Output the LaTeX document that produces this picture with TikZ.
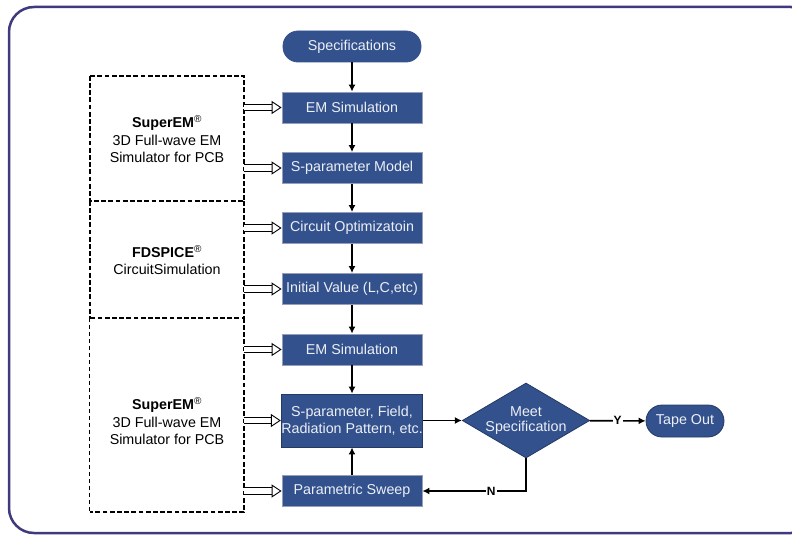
\documentclass[tikz,border=0pt]{standalone}
\usepackage{fontspec}
\setmainfont{Liberation Sans}
\usetikzlibrary{arrows.meta,shapes.geometric}
\definecolor{boxblue}{RGB}{51,82,141}
\definecolor{framecol}{RGB}{62,58,125}
\definecolor{boxedge}{RGB}{150,158,185}
\definecolor{txt}{RGB}{236,239,246}
\begin{document}
\begin{tikzpicture}[x=1pt,y=-1pt,
 proc/.style={draw=boxedge, line width=0.8pt, fill=boxblue, text=txt, minimum width=140pt, minimum height=31pt, inner sep=0pt, font=\fontsize{14.3}{16.7}\selectfont, align=center},
 pill/.style={proc, draw=boxblue, rounded corners=15pt},
 flow/.style={-{Latex[length=7pt,width=7pt]}, line width=1.6pt},
 hollow/.style={double, double distance=5.5pt, line width=0.9pt, -{Triangle[open,length=10pt,width=13pt]}},
 toolarea/.style={inner sep=0pt},
 dashline/.style={dash pattern=on 4.8pt off 2.4pt, line width=1.8pt},
 thindash/.style={dash pattern=on 4pt off 3pt, line width=1pt},
 tooltext/.style={font=\fontsize{14.3}{17.5}\selectfont, align=center},
 lab/.style={fill=white, inner sep=1pt, font=\bfseries\fontsize{12}{13}\selectfont}
]
\useasboundingbox (0,0) rectangle (792,535);
\clip (0,0) rectangle (792,535);
\draw[framecol, line width=2.5pt, rounded corners=25pt] (9,7) rectangle (816,533);

% dashed tool boxes (areas)
\node[toolarea, minimum width=154pt, minimum height=125pt] (tb1) at (167,138.5) {};
\node[toolarea, minimum width=154pt, minimum height=117pt] (tb2) at (167,259.5) {};
\node[toolarea, minimum width=154pt, minimum height=194pt] (tb3) at (167,415) {};
\draw[dashline] (tb1.north west) rectangle (tb1.south east);
\draw[dashline] (tb2.north west) -- (tb2.south west);
\draw[dashline] (tb2.north east) -- (tb2.south east) -- (tb2.south west);
\draw[thindash] (tb3.north west) -- (tb3.south west);
\draw[dashline] (tb3.north east) -- (tb3.south east) -- (tb3.south west);

\node[tooltext] (tt1) at (167,139) {\textbf{SuperEM}\textsuperscript{\textregistered}\\3D Full-wave EM\\Simulator for PCB};
\node[tooltext] (tt2) at (167,260) {\textbf{FDSPICE}\textsuperscript{\textregistered}\\CircuitSimulation};
\node[tooltext] (tt3) at (167,421) {\textbf{SuperEM}\textsuperscript{\textregistered}\\3D Full-wave EM\\Simulator for PCB};

% flow nodes
\node[pill, minimum width=138pt] (spec) at (352,46.5) {Specifications};
\node[proc] (em1) at (352,107.5) {EM Simulation};
\node[proc] (sp) at (352,168) {S-parameter Model};
\node[proc] (co) at (352,228) {Circuit Optimizatoin};
\node[proc] (iv) at (352,289) {Initial Value (L,C,etc)};
\node[proc] (em2) at (352,349.5) {EM Simulation};
\node[proc, draw=boxblue!70!black, minimum height=53pt] (res) at (352,420.5) {S-parameter, Field,\\Radiation Pattern, etc.};
\node[proc] (ps) at (352,491) {Parametric Sweep};
\node[diamond, draw=boxblue!70!black, line width=0.8pt, fill=boxblue, text=txt, minimum width=124pt, minimum height=73pt, inner sep=0pt, aspect=1.7, font=\fontsize{14.3}{14.5}\selectfont, align=center] (meet) at (526,420.5) {Meet\\Specification};
\node[pill, draw=boxblue!70!black, minimum width=78pt, minimum height=32pt, rounded corners=16pt] (tape) at (685,421) {Tape Out};

% flow arrows
\draw[flow] (spec) -- (em1);
\draw[flow] (em1) -- (sp);
\draw[flow] (sp) -- (co);
\draw[flow] (co) -- (iv);
\draw[flow] (iv) -- (em2);
\draw[flow] (em2) -- (res);
\draw[flow] (ps) -- (res);
\draw[flow] (res) -- (meet);
\draw[flow] (meet) -- node[lab]{Y} (tape);
\draw[flow] (meet.south) |- node[lab, pos=0.668]{N} (ps.east);

% hollow tool arrows
\draw[hollow] (tb1.east |- em1) -- (em1.west);
\draw[hollow] (tb1.east |- sp) -- (sp.west);
\draw[hollow] (tb2.east |- co) -- (co.west);
\draw[hollow] (tb2.east |- iv) -- (iv.west);
\draw[hollow] (tb3.east |- em2) -- (em2.west);
\draw[hollow] (tb3.east |- res) -- (res.west);
\draw[hollow] (tb3.east |- ps) -- (ps.west);
\end{tikzpicture}
\end{document}
